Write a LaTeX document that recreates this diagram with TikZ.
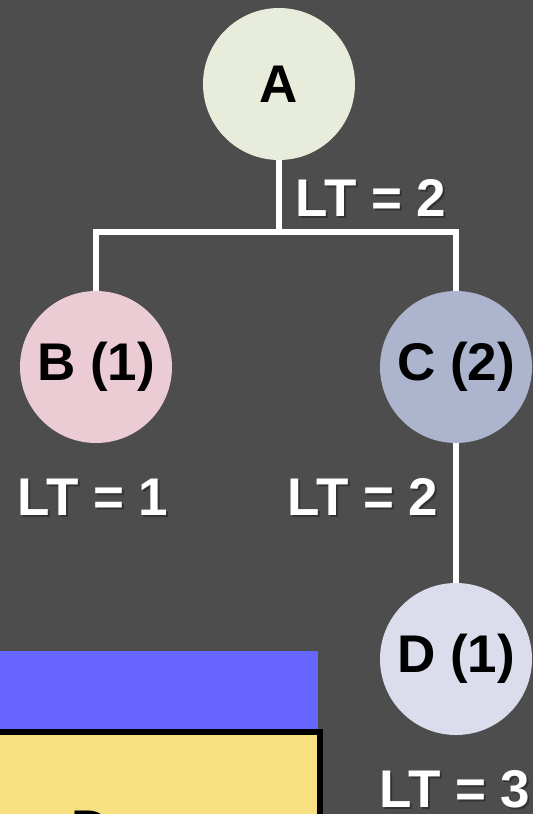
\documentclass[tikz,border=0pt]{standalone}
\usepackage{fontspec}
\setmainfont{Liberation Sans}
\usetikzlibrary{positioning}

\definecolor{bggray}{HTML}{4D4D4D}
\definecolor{nodeA}{HTML}{E8ECDA}
\definecolor{nodeB}{HTML}{EBCCD5}
\definecolor{nodeC}{HTML}{ADB4CE}
\definecolor{nodeD}{HTML}{DCDDEC}
\definecolor{barblue}{HTML}{6666FF}
\definecolor{boxyellow}{HTML}{F7E07F}

\newcommand{\bigbold}{\fontsize{37.7}{40}\selectfont\bfseries}
% white label with a dark shadow behind it
\newcommand{\ltlabel}[4]{%
  \node[ltshadow] at (#2+2,#3+2) {#4};
  \node[lt] (#1) at (#2,#3) {#4};}

\begin{document}
\begin{tikzpicture}[
    x=0.025cm, y=-0.025cm,
    treenode/.style={circle, minimum size=152*0.025cm, inner sep=0pt,
                     font=\bigbold, text=black},
    edge/.style={draw=white, line width=3.6pt},
    lt/.style={font=\bigbold, text=white, inner sep=0pt},
    ltshadow/.style={font=\bigbold, text=black!80, inner sep=0pt}
]
\useasboundingbox (0,0) rectangle (533,814);
\clip (0,0) rectangle (533,814);
\fill[bggray] (0,0) rectangle (533,814);
% --- Bottom boxes ---
\fill[barblue] (-10,651) rectangle (318,729);
\draw[fill=boxyellow, draw=black, line width=4.3pt] (-20,732) rectangle (320,900);
\node[font=\bigbold, text=black, anchor=base west] (boxtext) at (67,847) {D};
% --- Tree nodes ---
\node[treenode, fill=nodeA] (A) at (279,84) {A};
\node[treenode, fill=nodeB] (B) at (96,367) {B (1)};
\node[treenode, fill=nodeC] (C) at (456,367) {C (2)};
\node[treenode, fill=nodeD] (D) at (456,659) {D (1)};
\coordinate (split) at (279,232);
% --- Edges ---
\draw[edge] (A) -- (split);
\draw[edge] (split) -| (B);
\draw[edge] (split) -| (C);
\draw[edge] (C) -- (D);
% --- Lead times ---
\ltlabel{ltA}{371}{198}{LT = 2}
\ltlabel{ltB}{93}{497}{LT = 1}
\ltlabel{ltC}{363}{497}{LT = 2}
\ltlabel{ltD}{455}{789}{LT = 3}
\end{tikzpicture}
\end{document}
